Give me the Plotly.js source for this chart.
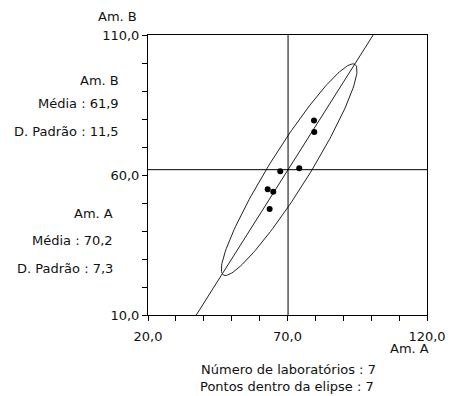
<!DOCTYPE html>
<html><head><meta charset="utf-8">
<script src="https://cdn.plot.ly/plotly-3.0.1.min.js"></script>
<style>html,body{margin:0;padding:0;background:#fff}#chart{width:451px;height:396px}</style>
</head><body><div id="chart"></div>
<script>
// Data
const amA = [79.5, 79.6, 74.2, 67.4, 62.9, 64.9, 63.6];
const amB = [79.5, 75.4, 62.4, 61.3, 54.9, 54.0, 47.9];
const meanA = 70.2, meanB = 61.9, sdA = 7.3, sdB = 11.5;
const nLabs = 7, insideEllipse = 7;
const lineX = [37.3, 100.7];
const lineY = [10, 110];
// Ellipse geometry: centre, semi-axes, angle in data units
const ellCenter = [70.6, 61.9];
const ellSemiMajor = 44.4, ellSemiMinor = 7.0, ellAngleDeg = 57.9;
const xTicks = [20,30,40,50,60,70,80,90,100,110,120];
const xTickText = ['20,0','','','','','70,0','','','','','120,0'];
const yTicks = [10,20,30,40,50,60,70,80,90,100,110];
const yTickText = ['10,0','','','','','60,0','','','','','110,0'];

const fmt = v => v.toFixed(1).replace('.', ',');

const ex = [], ey = [];
const th = ellAngleDeg * Math.PI / 180;
for (let i = 0; i <= 180; i++) {
  const t = 2 * Math.PI * i / 180;
  const u = ellSemiMajor * Math.cos(t), v = ellSemiMinor * Math.sin(t);
  ex.push(ellCenter[0] + u * Math.cos(th) - v * Math.sin(th));
  ey.push(ellCenter[1] + u * Math.sin(th) + v * Math.cos(th));
}

const FONT = {family: 'DejaVu Sans, Arial, sans-serif', size: 13, color: '#111'};
const L = 148, R = 427, T = 35, B = 315;
const px = x => (x - L) / (R - L);
const py = y => (B - y) / (B - T);

const traces = [
  {x: ex, y: ey, mode: 'lines', line: {color: '#222', width: 1}, hoverinfo: 'skip'},
  {x: lineX, y: lineY, mode: 'lines', line: {color: '#222', width: 1}, hoverinfo: 'skip'},
  {x: amA, y: amB, mode: 'markers', marker: {color: '#000', size: 6}}
];

function ann(text, x, y, xanchor) {
  return {text: text, xref: 'paper', yref: 'paper', x: px(x), y: py(y),
          xanchor: xanchor, yanchor: 'middle', showarrow: false, font: FONT};
}

const layout = {
  width: 451, height: 396,
  margin: {l: L, r: 451 - R, t: T, b: 396 - B},
  paper_bgcolor: '#fff', plot_bgcolor: '#fff',
  showlegend: false,
  font: FONT,
  xaxis: {range: [20, 120], tickvals: xTicks, ticktext: xTickText, ticks: 'outside', ticklen: 5,
          tickcolor: '#000', showgrid: false, zeroline: false, showline: true, linecolor: '#000',
          linewidth: 1, mirror: true, tickfont: FONT, ticklabelstandoff: 4, fixedrange: true},
  yaxis: {range: [10, 110], tickvals: yTicks, ticktext: yTickText, ticks: 'outside', ticklen: 5,
          tickcolor: '#000', showgrid: false, zeroline: false, showline: true, linecolor: '#000',
          linewidth: 1, mirror: true, tickfont: FONT, fixedrange: true},
  shapes: [
    {type: 'line', xref: 'x', yref: 'paper', x0: meanA, x1: meanA, y0: 0, y1: 1, line: {color: '#000', width: 1}},
    {type: 'line', xref: 'paper', yref: 'y', x0: 0, x1: 1, y0: meanB, y1: meanB, line: {color: '#000', width: 1}}
  ],
  annotations: [
    ann('Am. B', 139, 16, 'right'),
    ann('Am. B', 121, 80, 'right'),
    ann('Média : ' + fmt(meanB), 121, 103, 'right'),
    ann('D. Padrão : ' + fmt(sdB), 121, 131, 'right'),
    ann('Am. A', 115, 213, 'right'),
    ann('Média : ' + fmt(meanA), 115, 240, 'right'),
    ann('D. Padrão : ' + fmt(sdA), 115, 268, 'right'),
    ann('Am. A', 431, 348, 'right'),
    ann('Número de laboratórios : ' + nLabs, 288, 369, 'center'),
    ann('Pontos dentro da elipse : ' + insideEllipse, 287, 386, 'center')
  ]
};

Plotly.newPlot('chart', traces, layout, {staticPlot: true});
</script></body></html>
